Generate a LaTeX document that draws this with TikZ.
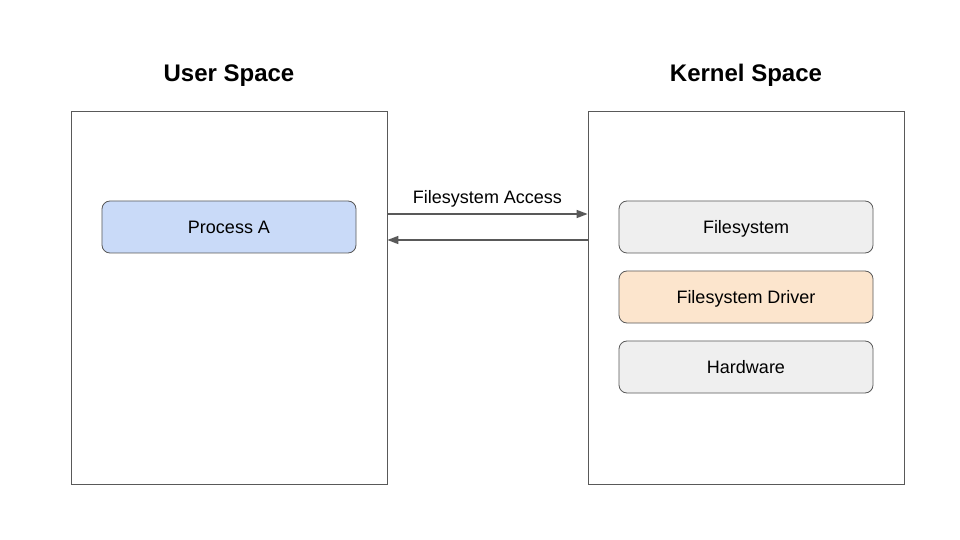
\documentclass[tikz,border=0pt]{standalone}
\usepackage{fontspec}
\setmainfont{Liberation Sans}
\usetikzlibrary{arrows.meta}
\definecolor{bordergray}{HTML}{595959}
\definecolor{procblue}{HTML}{C9DAF8}
\definecolor{lightgray}{HTML}{EFEFEF}
\definecolor{lightorange}{HTML}{FCE5CD}
\begin{document}
\begin{tikzpicture}[x=1bp,y=-1bp,
  panel/.style={draw=bordergray,line width=0.8bp,fill=white},
  comp/.style={draw=bordergray,line width=0.8bp,rounded corners=8bp,minimum width=254bp,minimum height=52bp,inner sep=0pt,text height=13bp,text depth=0bp,font=\fontsize{18bp}{22bp}\selectfont},
  title/.style={font=\fontsize{24bp}{28bp}\selectfont\bfseries,text height=17bp,text depth=0bp,inner sep=0pt},
  conn/.style={draw=bordergray,line width=1.6bp,-{Triangle[length=11bp,width=8bp]}},
  lbl/.style={font=\fontsize{18bp}{22bp}\selectfont}]
\useasboundingbox (0,0) rectangle (960,540);
\fill[white] (0,0) rectangle (960,540);
\node[panel,minimum width=316bp,minimum height=373bp,inner sep=0pt] (user) at (229,297.5) {};
\node[panel,minimum width=316bp,minimum height=373bp,inner sep=0pt] (kernel) at (746,297.5) {};
\node[title] (usert) at (229,73) {User Space};
\node[title] (kernelt) at (746,73) {Kernel Space};
\node[comp,fill=procblue] (proc) at (229,227) {Process A};
\node[comp,fill=lightgray] (fs) at (746,227) {Filesystem};
\node[comp,fill=lightorange] (drv) at (746,297) {Filesystem Driver};
\node[comp,fill=lightgray] (hw) at (746,367) {Hardware};
\coordinate (a1s) at (user.east |- 0,214);
\coordinate (a1e) at (kernel.west |- 0,214);
\coordinate (a2s) at (kernel.west |- 0,240);
\coordinate (a2e) at (user.east |- 0,240);
\draw[conn] (a1s) -- node[lbl,above=3bp] (acc) {Filesystem Access} (a1e);
\draw[conn] (a2s) -- (a2e);
\end{tikzpicture}
\end{document}
